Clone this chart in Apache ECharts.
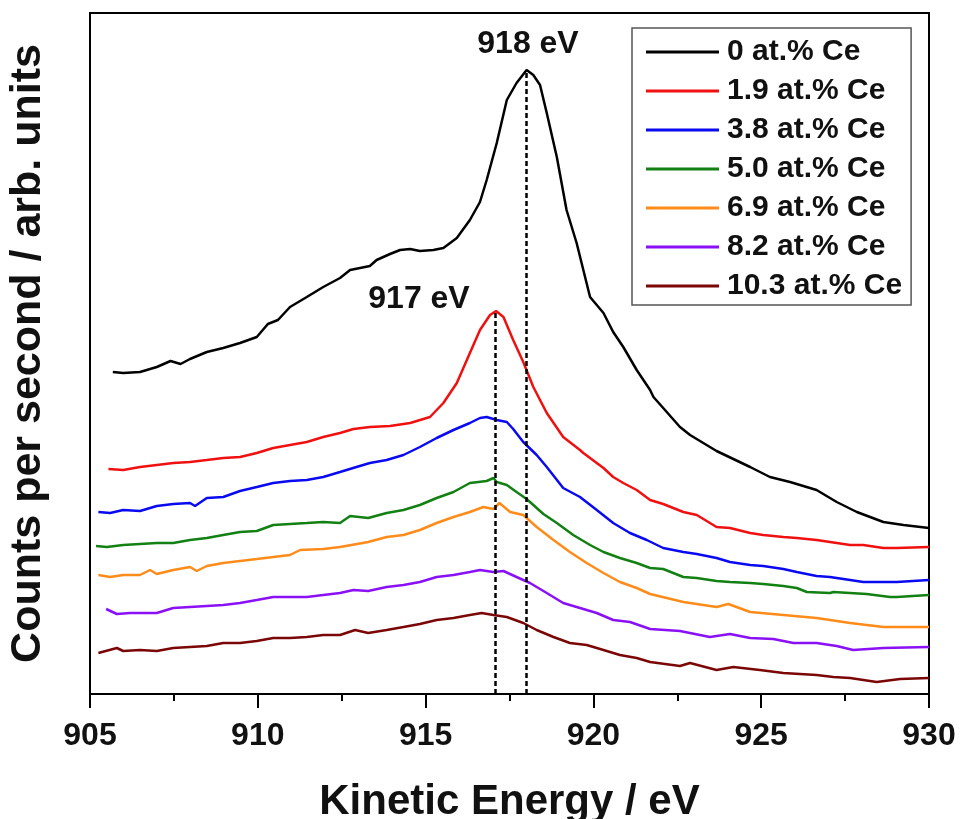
<!DOCTYPE html>
<html style="height: 100%">
<head>
<meta charset="utf-8">
</head>
<body style="height: 100%; margin: 0; background: #fff">
<div id="container" style="width: 962px; height: 819px"></div>
<script type="text/javascript" src="https://cdn.jsdelivr.net/npm/echarts@6/dist/echarts.min.js"></script>
<script type="text/javascript">
// series names as in the legend
const names = ['0 at.% Ce', '1.9 at.% Ce', '3.8 at.% Ce', '5.0 at.% Ce', '6.9 at.% Ce', '8.2 at.% Ce', '10.3 at.% Ce'];
const colors = ['#000000', '#f01010', '#0a0af0', '#128012', '#ff8c1a', '#8a10f5', '#7a0606'];

// [kinetic energy (eV), counts (arb. units, offset)]
const ce0 = [[905.68,322],[905.99,321],[906.49,322],[906.99,327],[907.4,333],[907.7,330],[907.98,335],[908.48,342],[908.97,346],[909.47,351],[909.97,357],[910.3,370],[910.6,374],[910.96,387],[911.46,397],[911.95,407],[912.45,416],[912.75,424],[913.34,428],[913.54,434],[913.94,440],[914.24,444],[914.54,445],[914.83,443],[915.23,444],[915.53,446],[915.93,456],[916.32,474],[916.62,492],[916.82,514],[917.12,551],[917.42,594],[917.71,611],[918.01,624],[918.21,619],[918.41,609],[918.61,581],[918.91,537],[919.2,484],[919.5,451],[919.9,397],[920.3,381],[920.59,362],[920.89,347],[921.29,324],[921.69,304],[921.79,297],[922.08,286],[922.58,267],[922.88,259],[923.67,243],[924.17,235],[924.67,227],[925.26,217],[925.86,212],[926.65,204],[927.25,192],[927.85,182],[928.64,172],[929.24,169],[930,166]];
const ce19 = [[905.55,225],[905.99,224],[906.49,227],[906.99,229],[907.48,231],[907.98,232],[908.48,234],[908.97,236],[909.47,237],[909.97,241],[910.46,246],[910.96,249],[911.46,252],[911.95,257],[912.45,261],[912.85,265],[913.34,267],[913.94,268],[914.54,271],[915.13,277],[915.53,291],[915.93,311],[916.32,341],[916.62,364],[916.92,379],[917.1,383],[917.32,377],[917.61,354],[917.91,332],[918.21,307],[918.61,281],[919.1,257],[919.6,244],[919.7,241],[920.3,226],[920.59,217],[920.89,211],[921.29,204],[921.69,194],[922.08,190],[922.68,182],[923.08,179],[923.67,167],[924.07,166],[924.67,161],[925.06,159],[925.66,157],[926.06,156],[926.65,154],[927.05,152],[927.65,149],[928.04,149],[928.64,146],[929.04,146],[930,147]];
const ce38 = [[905.25,182],[905.6,181],[905.99,184],[906.49,183],[906.99,188],[907.48,190],[907.98,191],[908.13,188],[908.48,196],[908.97,197],[909.47,203],[909.97,207],[910.46,211],[910.96,213],[911.46,214],[911.95,217],[912.45,222],[912.94,227],[913.34,231],[913.84,234],[914.34,239],[914.83,247],[915.33,256],[915.83,264],[916.32,271],[916.62,276],[916.82,277],[917.12,274],[917.42,272],[917.61,265],[917.91,252],[918.31,239],[918.61,227],[919.1,206],[919.6,197],[920.1,184],[920.59,171],[921.09,161],[921.59,154],[922.08,146],[922.68,142],[923.08,140],[923.67,136],[924.07,132],[924.67,129],[925.06,128],[925.66,125],[926.06,122],[926.65,118],[927.05,117],[927.65,114],[928.04,112],[928.64,112],[929.04,112],[930,114]];
const ce50 = [[905.18,148],[905.5,147],[905.99,149],[906.49,150],[906.99,151],[907.48,151],[907.98,154],[908.48,156],[908.97,159],[909.47,162],[909.97,163],[910.46,169],[910.96,170],[911.46,171],[911.95,172],[912.45,171],[912.75,178],[913.29,176],[913.84,181],[914.34,184],[914.83,189],[915.33,196],[915.83,202],[916.32,211],[916.82,213],[917.02,216],[917.12,212],[917.42,209],[917.71,202],[918.01,195],[918.51,180],[918.91,171],[919.4,159],[919.9,149],[920.3,142],[920.79,136],[921.29,131],[921.69,126],[922.08,125],[922.68,117],[923.08,116],[923.67,113],[924.07,112],[924.67,111],[925.06,110],[925.66,108],[926.06,106],[926.36,102],[927.05,101],[927.15,102],[928.14,100],[928.84,97],[929.04,97],[930,99]];
const ce69 = [[905.25,119],[905.6,117],[905.99,119],[906.49,119],[906.79,124],[906.99,120],[907.48,124],[907.98,127],[908.18,123],[908.48,128],[908.97,131],[909.47,133],[909.97,135],[910.46,137],[910.96,139],[911.26,144],[911.95,145],[912.45,147],[913.29,152],[913.84,157],[914.34,159],[914.83,164],[915.33,171],[915.83,177],[916.32,182],[916.72,187],[917.02,185],[917.2,191],[917.52,182],[917.91,179],[918.31,167],[918.81,154],[919.3,142],[919.8,131],[920.3,121],[920.79,112],[921.29,106],[921.69,100],[922.68,92],[923.67,87],[924.02,90],[924.67,82],[925.66,79],[926.65,76],[927.65,71],[928.64,67],[930,67]];
const ce82 = [[905.48,85],[905.8,80],[906.19,81],[906.99,81],[907.48,86],[907.98,87],[908.48,88],[908.97,89],[909.47,91],[909.97,94],[910.46,97],[910.96,97],[911.46,97],[911.95,99],[912.45,101],[912.85,104],[913.29,103],[913.84,107],[914.34,109],[914.83,112],[915.33,117],[915.83,119],[916.32,122],[916.62,124],[917.02,122],[917.32,123],[917.71,117],[918.11,111],[918.61,101],[919.1,91],[919.6,86],[920.1,81],[920.59,74],[921.09,72],[921.69,65],[922.58,63],[923.47,57],[924.07,60],[924.67,56],[925.36,55],[925.96,51],[926.65,51],[927.25,48],[927.74,44],[928.64,46],[930,47]];
const ce103 = [[905.25,41],[905.8,46],[905.99,43],[906.49,44],[906.99,43],[907.48,46],[907.98,47],[908.48,48],[908.97,51],[909.47,51],[909.97,53],[910.46,56],[910.96,56],[911.46,57],[911.95,59],[912.45,59],[912.9,64],[913.29,61],[913.84,64],[914.34,67],[914.83,70],[915.33,74],[915.83,76],[916.32,79],[916.67,81],[917.02,79],[917.42,77],[917.91,71],[918.31,64],[918.81,57],[919.3,51],[919.8,49],[920.3,44],[920.79,39],[921.29,36],[921.69,32],[922.58,28],[922.88,31],[923.67,24],[924.17,27],[924.96,24],[925.66,21],[926.65,19],[927.15,17],[927.65,16],[928.44,12],[929.14,15],[930,16]];
const allData = [ce0, ce19, ce38, ce50, ce69, ce82, ce103];

// peak positions marked with dashed lines: [energy, top of the line]
const peak918 = [918.01, 624];
const peak917 = [917.08, 383];

const font = 'Liberation Sans, Arial, sans-serif';
const dash = { type: [5, 3], width: 2.5, color: '#000' };

var myChart = echarts.init(document.getElementById('container'));

const series = names.map(function (n, i) {
  return {
    type: 'line',
    name: n,
    data: allData[i],
    symbol: 'none',
    color: colors[i],
    lineStyle: { width: 2.5, color: colors[i] },
    z: 3
  };
});
series[0].markLine = {
  silent: true, symbol: 'none', label: { show: false }, lineStyle: dash,
  data: [[{ coord: [peak918[0], 0] }, { coord: peak918 }]]
};
series[1].markLine = {
  silent: true, symbol: 'none', label: { show: false }, lineStyle: dash,
  data: [[{ coord: [peak917[0], 0] }, { coord: peak917 }]]
};

var option = {
  animation: false,
  backgroundColor: '#fff',
  grid: {
    left: 90, right: 33, top: 13, bottom: 125,
    outerBoundsMode: 'none', containLabel: false,
    show: true, borderColor: '#000', borderWidth: 2
  },
  xAxis: {
    type: 'value', min: 905, max: 930, interval: 5,
    name: 'Kinetic Energy / eV', nameLocation: 'middle', nameGap: 87,
    nameTextStyle: { fontFamily: font, fontWeight: 'bold', fontSize: 42, color: '#111' },
    axisLine: { lineStyle: { color: '#000', width: 2 } },
    axisTick: { inside: false, length: 14, lineStyle: { width: 2, color: '#000' } },
    minorTick: { show: true, splitNumber: 2, length: 7, lineStyle: { width: 2, color: '#000' } },
    axisLabel: { fontFamily: font, fontWeight: 'bold', fontSize: 32, color: '#111', margin: 26 },
    splitLine: { show: false }
  },
  yAxis: {
    type: 'value', min: 0, max: 681,
    name: 'Counts per second / arb. units', nameLocation: 'middle', nameGap: 40,
    nameTextStyle: { fontFamily: font, fontWeight: 'bold', fontSize: 43, color: '#111' },
    axisLine: { show: true, lineStyle: { color: '#000', width: 2 } },
    axisTick: { show: false }, axisLabel: { show: false }, splitLine: { show: false }
  },
  legend: {
    data: names, orient: 'vertical', left: 632, top: 28,
    selectedMode: false,
    icon: 'rect',
    itemWidth: 73, itemHeight: 3, itemGap: 9,
    padding: [9, 9, 4, 14],
    borderColor: '#555', borderWidth: 1.5,
    textStyle: { fontFamily: font, fontWeight: 'bold', fontSize: 30, color: '#111', lineHeight: 30, padding: [0, 0, 0, 3] }
  },
  graphic: [
    { type: 'text', x: 528, y: 44, style: { text: '918 eV', font: 'bold 32px ' + font, fill: '#111', textAlign: 'center', textVerticalAlign: 'middle' } },
    { type: 'text', x: 419, y: 299, style: { text: '917 eV', font: 'bold 32px ' + font, fill: '#111', textAlign: 'center', textVerticalAlign: 'middle' } }
  ],
  series: series
};

myChart.setOption(option);
</script>
</body>
</html>
